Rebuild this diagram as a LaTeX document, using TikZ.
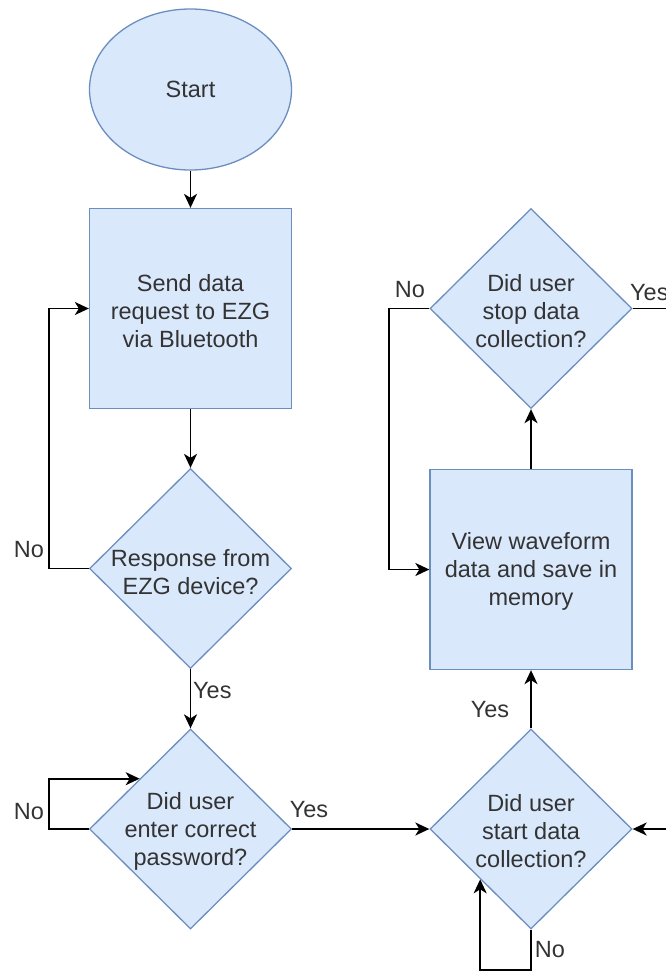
\documentclass[tikz,border=0pt]{standalone}
\usepackage{fontspec}
\setmainfont{Liberation Sans}
\usetikzlibrary{shapes.geometric,arrows.meta,calc}
\definecolor{fillc}{HTML}{DAE8FC}
\definecolor{strokec}{HTML}{6C8EBF}
\definecolor{textc}{HTML}{333333}
\tikzset{
  shapebase/.style={fill=fillc, draw=strokec, line width=1.3pt},
  term/.style={shapebase, ellipse, minimum width=202pt, minimum height=161pt, inner sep=0pt},
  proc/.style={shapebase, rectangle, minimum width=202pt, minimum height=200pt},
  dec/.style={shapebase, diamond, minimum width=202pt, minimum height=200pt, inner sep=0pt},
  txt/.style={text=textc, align=center, font=\fontsize{23.5}{28}\selectfont, inner sep=0pt},
  lbl/.style={text=textc, font=\fontsize{23.5}{28}\selectfont, inner sep=0pt},
  arr/.style={draw=black, line width=1.8pt, -{Stealth[length=14pt,width=13pt,inset=4pt]}},
  ln/.style={draw=black, line width=1.8pt}
}
\begin{document}
\begin{tikzpicture}[x=1pt,y=-1pt]
\useasboundingbox (0,0) rectangle (666,972);
\clip (0,0) rectangle (666,972);
% shapes
\node[term] (start) at (190.5,89.5) {};
\node[txt] (startt) at (start.center) {Start};
\node[proc] (r1) at (190.5,308.5) {};
\node[txt] (r1t) at (190.5,311) {Send data\\request to EZG\\via Bluetooth};
\node[dec] (d1) at (190.5,568.5) {};
\node[txt] (d1t) at (190.5,572) {Response from\\EZG device?};
\node[dec] (d2) at (190.5,829) {};
\node[txt] (d2t) at (190.5,831) {Did user\\enter correct\\password?};
\node[dec] (d3) at (531,829) {};
\node[txt] (d3t) at (531,831) {Did user\\start data\\collection?};
\node[proc] (r2) at (531,569.5) {};
\node[txt] (r2t) at (531,571) {View waveform\\data and save in\\memory};
\node[dec] (d4) at (531,308.5) {};
\node[txt] (d4t) at (531,311) {Did user\\stop data\\collection?};
% helper coordinates
\coordinate (d2nw) at ($(d2.west)!0.5!(d2.north)$);
\coordinate (d3sw) at ($(d3.west)!0.5!(d3.south)$);
\coordinate (offR) at (700,829);
\coordinate (offR2) at (700,308.5);
% connectors
\draw[arr] (start.south) -- (r1.north);
\draw[arr] (r1.south) -- (d1.north);
\draw[arr] (d1.west) -- ++(-40,0) |- (r1.west);
\draw[arr] (d1.south) -- (d2.north);
\draw[arr] (d2.west) -- ++(-40,0) |- (d2nw);
\draw[arr] (d2.east) -- (d3.west);
\draw[arr] (offR) -- (d3.east);
\draw[arr] (d3.south) -- ++(0,40) -| (d3sw);
\draw[arr] (d3.north) -- (r2.south);
\draw[arr] (r2.north) -- (d4.south);
\draw[arr] (d4.west) -- ++(-40,0) |- (r2.west);
\draw[ln] (d4.east) -- (offR2);
% labels
\node[lbl] (l1) at (29,550) {No};
\node[lbl, anchor=west] (l2) at (193,691) {Yes};
\node[lbl] (l3) at (29,812) {No};
\node[lbl] (l4) at (309,810) {Yes};
\node[lbl] (l5) at (490,710) {Yes};
\node[lbl] (l6) at (550,950) {No};
\node[lbl] (l7) at (410,290) {No};
\node[lbl, anchor=west] (l8) at (630,293) {Yes};
\end{tikzpicture}
\end{document}
